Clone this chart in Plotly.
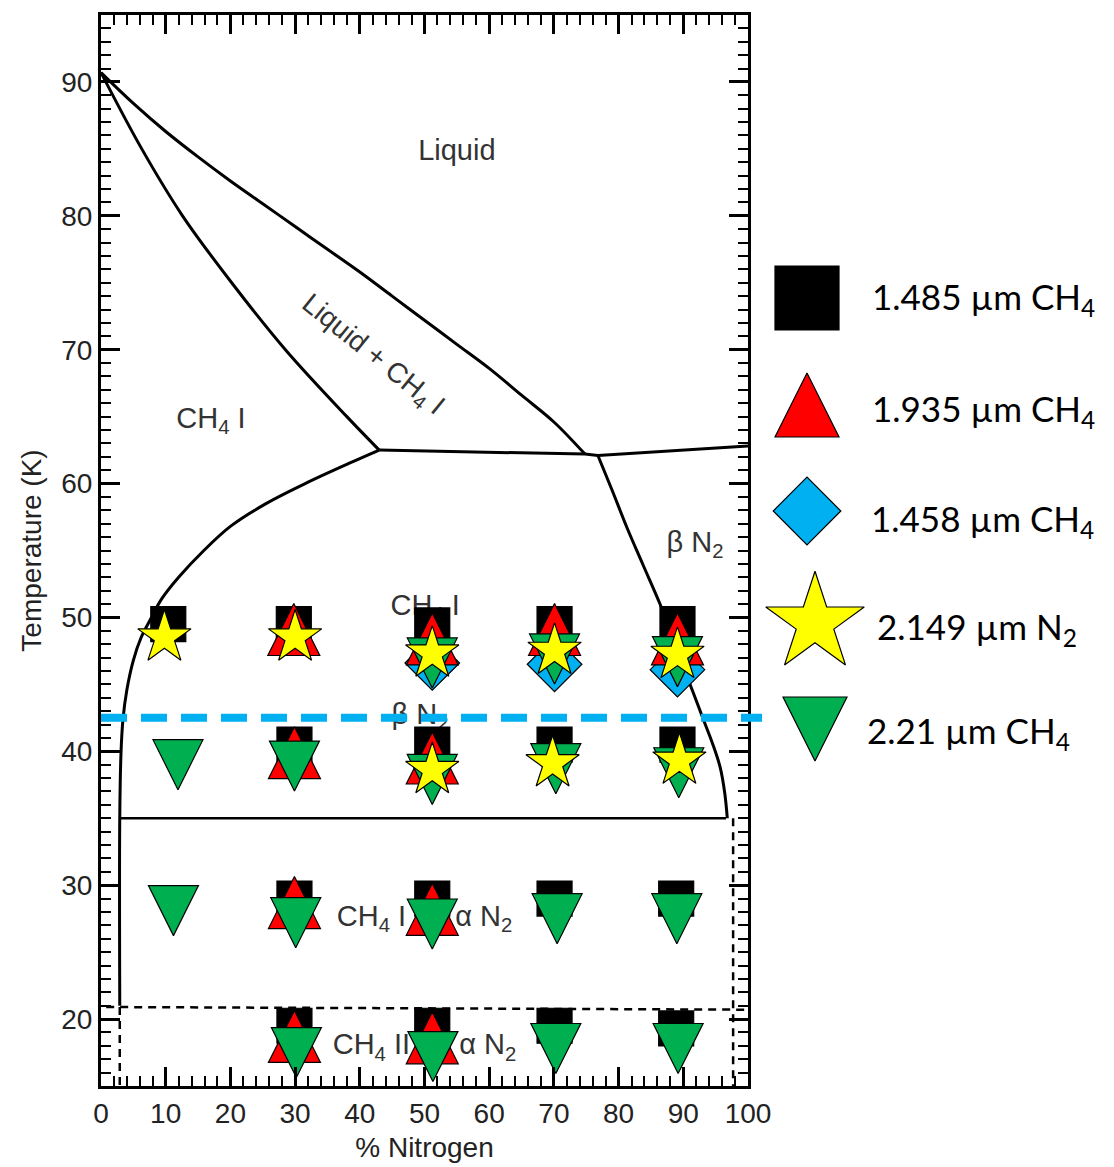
import plotly.graph_objects as go

# ---------------- data ----------------
# phase boundaries (x = % nitrogen, T = temperature in K)
liquidus_x = [0, 5, 10, 15, 20, 25, 30, 35, 40, 45, 50, 55, 60, 65, 70, 74.8]
liquidus_T = [90.7, 88.4, 86.3, 84.4, 82.6, 80.9, 79.2, 77.5, 75.8, 74.0, 72.2, 70.4, 68.6, 66.6, 64.6, 62.2]

solidus_x = [0, 6.3, 12.6, 20.2, 28.5, 38.0, 43.0]
solidus_T = [90.7, 85, 80, 75, 70, 65, 62.5]

eutectic_x = [43.0, 74.8, 76.8, 100]
eutectic_T = [62.5, 62.2, 62.1, 62.8]

ch4_solvus_x = [43.0, 38.3, 32, 25.5, 20, 15.9, 12, 9.4, 7.8, 6.2, 5.0, 4.0, 3.4, 3.1, 2.9, 2.9]
ch4_solvus_T = [62.5, 61.5, 60.1, 58.5, 56.8, 55, 53, 51.4, 50.0, 48.5, 46.8, 44.6, 42.4, 40.0, 35, 21.0]

n2_solvus_x = [76.8, 79, 81.3, 83.8, 86.4, 88.3, 90, 91.6, 93, 94.5, 95.7, 96.4, 96.8]
n2_solvus_T = [62.1, 59.5, 56.7, 53.9, 51.0, 48.6, 46.3, 44.3, 42.5, 40.6, 38.8, 36.9, 35.0]

alpha_beta_x = [3.0, 96.6]
alpha_beta_T = [35.0, 35.0]

ch4_ii_x = [0.8, 100]
ch4_ii_T = [20.9, 20.7]
ch4_ii_left_x = [2.9, 2.9]
ch4_ii_left_T = [20.9, 15]
alpha_right_x = [97.7, 97.7]
alpha_right_T = [35.0, 15]

transition_T = 42.5  # blue dashed line

# measured points
sq_x = [10.4, 29.8, 51.2, 70.1, 89.1, 29.9, 51.2, 70.1, 89.1, 29.9, 51.2, 70.1, 88.9, 29.9, 51.2, 70.1, 88.9]
sq_T = [49.5, 49.5, 49.4, 49.5, 49.5, 40.5, 40.5, 40.5, 40.5, 29.0, 29.0, 29.0, 29.0, 19.5, 19.5, 19.5, 19.3]

red_x = [29.8, 51.2, 70.1, 89.1, 29.9, 51.2, 29.9, 51.2, 29.9, 51.2]
red_T = [49.1, 48.4, 49.1, 48.4, 39.9, 39.5, 28.7, 28.2, 18.7, 18.6]

dia_x = [51.2, 70.1, 89.1]
dia_T = [46.6, 46.5, 46.1]

grn_x = [51.2, 70.1, 89.1, 11.9, 29.9, 51.2, 70.3, 89.3, 11.2, 30.1, 51.2, 70.5, 89.0, 30.2, 51.3, 70.3, 89.2]
grn_T = [46.6, 46.9, 46.7, 39.0, 38.9, 37.9, 38.7, 38.4, 28.1, 27.2, 27.1, 27.5, 27.5, 17.5, 17.2, 17.8, 17.8]

star_x = [9.8, 30.0, 51.2, 70.1, 89.1, 51.2, 69.8, 89.4]
star_T = [48.5, 48.5, 47.3, 47.5, 47.2, 38.6, 39.1, 39.3]

# phase region labels
region_labels = ["Liquid", "CH<sub>4</sub> I", "β N<sub>2</sub>", "CH<sub>4</sub> I", "β N<sub>2</sub>",
                 "CH<sub>4</sub> I  +  α N<sub>2</sub>", "CH<sub>4</sub> II  +  α N<sub>2</sub>"]
region_x = [55.0, 17.0, 91.8, 50.1, 49.3, 50.0, 50.0]
region_T = [84.7, 64.7, 55.4, 50.7, 42.6, 27.5, 17.9]
slanted_label = "Liquid + CH<sub>4</sub> I"
slanted_x, slanted_T = 42.0, 69.6

legend_labels = ["1.485 µm CH<sub>4</sub>", "1.935 µm CH<sub>4</sub>", "1.458 µm CH<sub>4</sub>",
                 "2.149 µm N<sub>2</sub>", "2.21 µm CH<sub>4</sub>"]

x_ticks = list(range(0, 101, 10))
y_ticks = list(range(20, 91, 10))

# ---------------- styling / layout constants ----------------
W, H = 1114, 1167
ML, MR, MT, MB = 101, 0, 15, 81
PW = W - ML - MR
main_right_px = 748
x_dom_end = (main_right_px - ML) / PW
leg_dom_start = 0.645

C_RED = "#FF0000"
C_BLUE = "#00B0F0"
C_GREEN = "#00B050"
C_YEL = "#FFFF00"
AXFONT = "Liberation Sans, Arial, sans-serif"
LEGFONT = "Lato, sans-serif"

fig = go.Figure()

def boundary(x, y, dash="solid", width=3, shape="linear"):
    fig.add_trace(go.Scatter(x=x, y=y, mode="lines", showlegend=False, hoverinfo="skip",
                             line=dict(color="black", width=width, dash=dash, shape=shape,
                                       smoothing=1.0)))

boundary(liquidus_x, liquidus_T, shape="spline")
boundary(solidus_x, solidus_T, shape="spline")
boundary(eutectic_x, eutectic_T)
boundary(ch4_solvus_x, ch4_solvus_T, shape="spline")
boundary(n2_solvus_x, n2_solvus_T, shape="spline")
boundary(alpha_beta_x, alpha_beta_T, width=2.5)
boundary(ch4_ii_x, ch4_ii_T, dash="8px,6px", width=2.5)
boundary(ch4_ii_left_x, ch4_ii_left_T, dash="8px,6px", width=2.5)
boundary(alpha_right_x, alpha_right_T, dash="8px,6px", width=2.5)

# region labels (under the markers)
fig.add_trace(go.Scatter(x=region_x, y=region_T, mode="text", text=region_labels,
                         textposition="middle center", showlegend=False, hoverinfo="skip",
                         textfont=dict(family=AXFONT, size=29, color="#333333")))

OUT = dict(color="black", width=1.2)

def pts(x, y, symbol, color, size, angle=0, standoff=0, xa="x", ya="y"):
    fig.add_trace(go.Scatter(x=x, y=y, mode="markers", showlegend=False, xaxis=xa, yaxis=ya,
                             cliponaxis=False, hoverinfo="skip",
                             marker=dict(symbol=symbol, color=color, size=size, angle=angle,
                                         standoff=standoff, line=OUT)))

pts(sq_x, sq_T, "square", "black", 35)
pts(dia_x, dia_T, "diamond", C_BLUE, 42)
pts(red_x, red_T, "arrow-down", C_RED, 52, angle=180, standoff=26)
pts(grn_x, grn_T, "arrow-down", C_GREEN, 50, angle=0, standoff=25)
pts(star_x, star_T, "star", C_YEL, 40)

# ---------------- custom legend (right side, pixel-mapped axes) ----------------
leg_rows_px = [298, 405, 511, 623, 729]
leg_sym = [("square", "black", 64, 0, 0, 807),
           ("arrow-down", C_RED, 64, 180, 32, 807),
           ("diamond", C_BLUE, 52, 0, 0, 807),
           ("star", C_YEL, 74, 0, 0, 815),
           ("arrow-down", C_GREEN, 64, 0, 32, 815)]
text_x_px = [870, 870, 869, 875, 865]
text_y_px = [298, 410, 520, 628, 732]
for (sym, col, sz, ang, so, xpx), ypx in zip(leg_sym, leg_rows_px):
    pts([xpx], [ypx], sym, col, sz, angle=ang, standoff=so, xa="x2", ya="y2")

annotations = []
for lab, tx, ty in zip(legend_labels, text_x_px, text_y_px):
    annotations.append(dict(x=tx, y=ty, xref="x2", yref="y2", text=lab, showarrow=False,
                            xanchor="left", yanchor="middle",
                            font=dict(family=LEGFONT, size=35, color="black")))

annotations.append(dict(x=slanted_x, y=slanted_T, xref="x", yref="y", text=slanted_label,
                        showarrow=False, textangle=39,
                        font=dict(family=AXFONT, size=28, color="#333333")))

shapes = [dict(type="line", xref="paper", yref="y", x0=0.0, x1=(762 - ML) / PW,
               y0=transition_T, y1=transition_T,
               line=dict(color=C_BLUE, width=8, dash="26px,14px"))]

axis_common = dict(showline=True, linewidth=3, linecolor="black", mirror="ticks",
                   ticks="inside", ticklen=19, tickwidth=2.5, tickcolor="black",
                   showgrid=False, zeroline=False, automargin=False,
                   tickfont=dict(family=AXFONT, size=28, color="#222222"))

fig.update_layout(
    width=W, height=H, margin=dict(l=ML, r=MR, t=MT, b=MB),
    paper_bgcolor="white", plot_bgcolor="white",
    showlegend=False,
    xaxis=dict(domain=[0, x_dom_end], range=[0, 100], tickvals=x_ticks,
               minor=dict(ticks="inside", ticklen=10, tickwidth=2, tickcolor="black",
                          dtick=2, tick0=0, showgrid=False),
               title=dict(text="% Nitrogen", standoff=10,
                          font=dict(family=AXFONT, size=28, color="#222222")),
               **axis_common),
    yaxis=dict(domain=[0, 1], range=[15, 95], tickvals=y_ticks,
               minor=dict(ticks="inside", ticklen=10, tickwidth=2, tickcolor="black",
                          dtick=1, tick0=15, showgrid=False),
               title=dict(text="Temperature (K)", standoff=12,
                          font=dict(family=AXFONT, size=28, color="#222222")),
               **axis_common),
    xaxis2=dict(domain=[leg_dom_start, 1], range=[ML + leg_dom_start * PW, W],
                visible=False, anchor="y2"),
    yaxis2=dict(domain=[0, 1], range=[H - MB, MT], visible=False, anchor="x2"),
    annotations=annotations,
    shapes=shapes,
)

fig.write_html("out.html", config={"displayModeBar": False})
